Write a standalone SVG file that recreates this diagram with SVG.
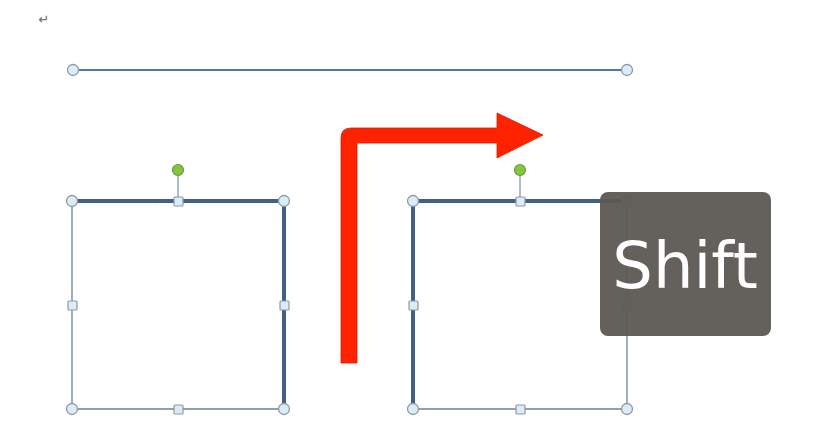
<svg xmlns="http://www.w3.org/2000/svg" width="835" height="431" viewBox="0 0 835 431">
<style>
.thin{stroke:#6f8196;stroke-width:1.3;fill:none}
.thick{stroke:#435f86;stroke-width:4;fill:none}
.hc{fill:#dcecf6;stroke:#8c9aa6;stroke-width:1.3}
.hs{fill:#dcecf6;stroke:#8c9aa6;stroke-width:1.2}
.rot{fill:#86c440;stroke:#6a9a38;stroke-width:1.2}
.rl{stroke:#7a8a99;stroke-width:1.2}
</style>
<rect width="835" height="431" fill="#ffffff"/>
<text x="44" y="24" font-family="DejaVu Sans, sans-serif" font-size="13" fill="#666" text-anchor="middle">↵</text>
<g id="connectors">
<g id="topline">
<line x1="73" y1="70" x2="627" y2="70" stroke="#5576a8" stroke-width="2"/>
<circle class="hc" cx="73" cy="70" r="5.5"/>
<circle class="hc" cx="627" cy="70" r="5.5"/>
</g>
<g id="redarrow">
<path d="M341,363 V138 Q341,128 351,128 H497 V113 L543,135 L497,158 V143 H357 V363 Z" fill="#ff2200" stroke="#e01a00" stroke-width="0.8"/>
</g>
</g>
<g id="box-left">
<line class="thin" x1="72" y1="201" x2="72" y2="409"/>
<line class="thin" x1="72" y1="409" x2="284" y2="409"/>
<line class="thick" x1="72" y1="201" x2="284" y2="201"/>
<line class="thick" x1="284" y1="201" x2="284" y2="409"/>
<line class="rl" x1="178" y1="176" x2="178" y2="201"/>
<circle class="rot" cx="178" cy="170" r="5.5"/>
<circle class="hc" cx="72" cy="201" r="5.5"/>
<circle class="hc" cx="284" cy="201" r="5.5"/>
<circle class="hc" cx="72" cy="409" r="5.5"/>
<circle class="hc" cx="284" cy="409" r="5.5"/>
<rect class="hs" x="174" y="197" width="9" height="9" rx="1"/>
<rect class="hs" x="68" y="301" width="9" height="9" rx="1"/>
<rect class="hs" x="280" y="301" width="9" height="9" rx="1"/>
<rect class="hs" x="174" y="405" width="9" height="9" rx="1"/>
</g>
<g id="box-right">
<line class="thin" x1="627" y1="201" x2="627" y2="409"/>
<line class="thin" x1="413" y1="409" x2="627" y2="409"/>
<line class="thick" x1="413" y1="201" x2="627" y2="201"/>
<line class="thick" x1="413" y1="201" x2="413" y2="409"/>
<line class="rl" x1="520" y1="176" x2="520" y2="201"/>
<circle class="rot" cx="520" cy="170" r="5.5"/>
<circle class="hc" cx="413" cy="201" r="5.5"/>
<circle class="hc" cx="627" cy="201" r="5.5"/>
<circle class="hc" cx="413" cy="409" r="5.5"/>
<circle class="hc" cx="627" cy="409" r="5.5"/>
<rect class="hs" x="516" y="197" width="9" height="9" rx="1"/>
<rect class="hs" x="409" y="301" width="9" height="9" rx="1"/>
<rect class="hs" x="623" y="301" width="9" height="9" rx="1"/>
<rect class="hs" x="516" y="405" width="9" height="9" rx="1"/>
</g>
<g id="shift-key">
<rect x="600" y="192" width="171" height="144" rx="8" fill="#5c5753" fill-opacity="0.95"/>
<text x="685" y="288" font-family="DejaVu Sans, sans-serif" font-size="64" fill="#ffffff" text-anchor="middle">Shift</text>
</g>
</svg>
